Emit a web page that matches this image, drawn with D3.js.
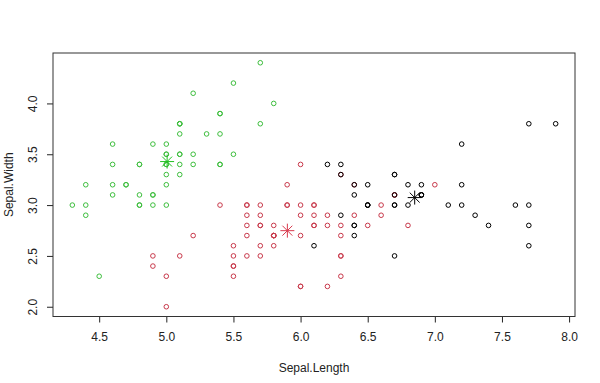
<!DOCTYPE html>
<html><head><meta charset="utf-8">
<script src="https://cdn.jsdelivr.net/npm/d3@7"></script>
<style>body{margin:0;background:#fff}svg{display:block}text{font-family:"Liberation Sans",Arial,sans-serif;}</style>
</head><body><svg id="c" width="600" height="383"></svg>
<script>
const sepalLength = [5.1,4.9,4.7,4.6,5.0,5.4,4.6,5.0,4.4,4.9,5.4,4.8,4.8,4.3,5.8,5.7,5.4,5.1,5.7,5.1,5.4,5.1,4.6,5.1,4.8,5.0,5.0,5.2,5.2,4.7,4.8,5.4,5.2,5.5,4.9,5.0,5.5,4.9,4.4,5.1,5.0,4.5,4.4,5.0,5.1,4.8,5.1,4.6,5.3,5.0,
7.0,6.4,6.9,5.5,6.5,5.7,6.3,4.9,6.6,5.2,5.0,5.9,6.0,6.1,5.6,6.7,5.6,5.8,6.2,5.6,5.9,6.1,6.3,6.1,6.4,6.6,6.8,6.7,6.0,5.7,5.5,5.5,5.8,6.0,5.4,6.0,6.7,6.3,5.6,5.5,5.5,6.1,5.8,5.0,5.6,5.7,5.7,6.2,5.1,5.7,
6.3,5.8,7.1,6.3,6.5,7.6,4.9,7.3,6.7,7.2,6.5,6.4,6.8,5.7,5.8,6.4,6.5,7.7,7.7,6.0,6.9,5.6,7.7,6.3,6.7,7.2,6.2,6.1,6.4,7.2,7.4,7.9,6.4,6.3,6.1,7.7,6.3,6.4,6.0,6.9,6.7,6.9,5.8,6.8,6.7,6.7,6.3,6.5,6.2,5.9];
const sepalWidth = [3.5,3.0,3.2,3.1,3.6,3.9,3.4,3.4,2.9,3.1,3.7,3.4,3.0,3.0,4.0,4.4,3.9,3.5,3.8,3.8,3.4,3.7,3.6,3.3,3.4,3.0,3.4,3.5,3.4,3.2,3.1,3.4,4.1,4.2,3.1,3.2,3.5,3.6,3.0,3.4,3.5,2.3,3.2,3.5,3.8,3.0,3.8,3.2,3.7,3.3,
3.2,3.2,3.1,2.3,2.8,2.8,3.3,2.4,2.9,2.7,2.0,3.0,2.2,2.9,2.9,3.1,3.0,2.7,2.2,2.5,3.2,2.8,2.5,2.8,2.9,3.0,2.8,3.0,2.9,2.6,2.4,2.4,2.7,2.7,3.0,3.4,3.1,2.3,3.0,2.5,2.6,3.0,2.6,2.3,2.7,3.0,2.9,2.9,2.5,2.8,
3.3,2.7,3.0,2.9,3.0,3.0,2.5,2.9,2.5,3.6,3.2,2.7,3.0,2.5,2.8,3.2,3.0,3.8,2.6,2.2,3.2,2.8,2.8,2.7,3.3,3.2,2.8,3.0,2.8,3.0,2.8,3.8,2.8,2.8,2.6,3.0,3.4,3.1,3.0,3.1,3.1,3.1,2.7,3.2,3.3,3.0,2.5,3.0,3.4,3.0];
// cluster: 1 = black, 2 = red, 3 = green
const cluster = [3,3,3,3,3,3,3,3,3,3,3,3,3,3,3,3,3,3,3,3,3,3,3,3,3,3,3,3,3,3,3,3,3,3,3,3,3,3,3,3,3,3,3,3,3,3,3,3,3,3,
2,2,1,2,2,2,2,2,2,2,2,2,2,2,2,2,2,2,2,2,2,2,2,2,2,2,2,1,2,2,2,2,2,2,2,2,2,2,2,2,2,2,2,2,2,2,2,2,2,2,
1,2,1,1,1,1,2,1,1,1,1,1,1,2,2,1,1,1,1,2,1,2,1,2,1,1,2,2,1,1,1,1,1,2,1,1,1,1,2,1,1,1,2,1,1,1,2,1,1,2];
const centerLength = [6.850000, 5.901613, 5.006000];
const centerWidth = [3.073684, 2.748387, 3.428000];
const xTicks = [4.5,5.0,5.5,6.0,6.5,7.0,7.5,8.0];
const yTicks = [2.0,2.5,3.0,3.5,4.0];
const colors = ["#000000","#C8384A","#3DBE3D"];
const starColors = ["#000000","#D83A4E","#22C022"];

const svg = d3.select("#c");
const L=53, R=575, T=53, B=316.5;
const x = d3.scaleLinear().domain([4.156,8.044]).range([L,R]);
const y = d3.scaleLinear().domain([1.904,4.496]).range([B,T]);

// axes
const xa = svg.append("g").attr("transform",`translate(0,${B})`)
  .call(d3.axisBottom(x).tickValues(xTicks).tickFormat(d3.format(".1f")).tickSize(6).tickPadding(10));
const ya = svg.append("g").attr("transform",`translate(${L},0)`)
  .call(d3.axisLeft(y).tickValues(yTicks).tickFormat(d3.format(".1f")).tickSize(6));
[xa,ya].forEach(a=>{a.select(".domain").remove();a.selectAll("line").attr("stroke","#222");
  a.selectAll("text").attr("font-size",12).attr("fill","#222").attr("font-family","Liberation Sans, Arial, sans-serif");});
ya.selectAll(".tick text").attr("text-anchor","middle").attr("x",0).attr("dy",0)
  .attr("transform","translate(-16,0) rotate(-90)");

svg.append("rect").attr("x",L).attr("y",T).attr("width",R-L).attr("height",B-T)
  .attr("fill","none").attr("stroke","#333").attr("stroke-width",1);

svg.append("text").attr("x",(L+R)/2).attr("y",372).attr("text-anchor","middle")
  .attr("font-size",12).attr("fill","#222").text("Sepal.Length");
svg.append("text").attr("transform",`translate(13,${(T+B)/2}) rotate(-90)`).attr("text-anchor","middle")
  .attr("font-size",12).attr("fill","#222").text("Sepal.Width");

// points
svg.append("g").selectAll("circle").data(d3.range(sepalLength.length)).join("circle")
  .attr("cx",i=>x(sepalLength[i])).attr("cy",i=>y(sepalWidth[i])).attr("r",2.3)
  .attr("fill","none").attr("stroke",i=>colors[cluster[i]-1]).attr("stroke-width",1);

// centers (pch 8 asterisk)
const s = 7;
const g = svg.append("g").selectAll("g").data(d3.range(centerLength.length)).join("g")
  .attr("transform",i=>`translate(${x(centerLength[i])},${y(centerWidth[i])})`)
  .attr("stroke",i=>starColors[i]).attr("stroke-width",1);
const a = s*Math.SQRT1_2;
g.append("path").attr("d",`M${-s},0L${s},0M0,${-s}L0,${s}M${-a},${-a}L${a},${a}M${-a},${a}L${a},${-a}`);
</script></body></html>
